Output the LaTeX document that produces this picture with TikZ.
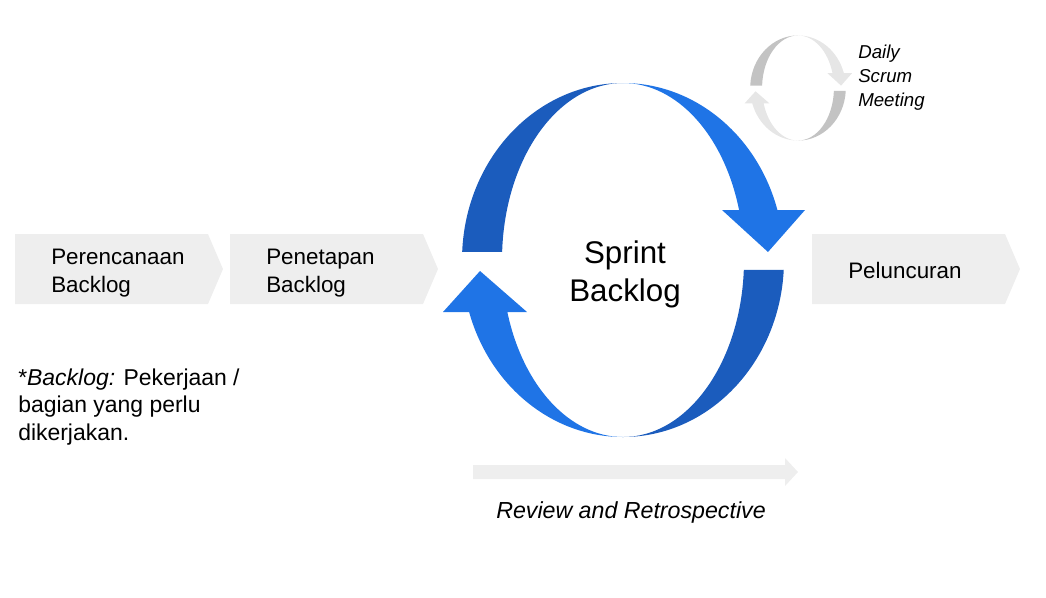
\documentclass[tikz,border=0pt]{standalone}
\usepackage{fontspec}
\setmainfont{Liberation Sans}
\usepackage{tikz}
\usetikzlibrary{positioning}
\definecolor{ringdark}{HTML}{1B5CBD}
\definecolor{ringlight}{HTML}{1F74E6}
\definecolor{minidark}{HTML}{C3C3C3}
\definecolor{minilight}{HTML}{E6E6E6}
\definecolor{paneel}{HTML}{EEEEEE}
\tikzset{
    chev/.style={fill=paneel},
    steplbl/.style={anchor=west, inner sep=0pt, align=left,
        font=\fontsize{16.8}{20.5}\selectfont},
    midlbl/.style={inner sep=0pt, align=center,
        font=\fontsize{23.5}{28.5}\selectfont},
    sidelbl/.style={anchor=west, inner sep=0pt, align=left,
        font=\fontsize{14}{18}\selectfont\itshape},
}
% twee gebogen pijlen rond (0,0), buiten rx 161, binnen rx 121, ry 177
\newcommand{\ringpair}[2]{%
    \fill[#1] (177.4:161 and 177)
        arc[start angle=177.4, end angle=90, x radius=161, y radius=177]
        arc[start angle=90, end angle=177.4, x radius=121, y radius=177] -- cycle;
    \fill[#2] (90:161 and 177)
        arc[start angle=90, end angle=16.4, x radius=161, y radius=177]
        -- (182,50) -- (145,8) -- (99,50) -- (16.4:121 and 177)
        arc[start angle=16.4, end angle=90, x radius=121, y radius=177] -- cycle;
    \fill[#1] (-3.2:161 and 177)
        arc[start angle=-3.2, end angle=-90, x radius=161, y radius=177]
        arc[start angle=-90, end angle=-3.2, x radius=121, y radius=177] -- cycle;
    \fill[#2] (270:161 and 177)
        arc[start angle=270, end angle=197.1, x radius=161, y radius=177]
        -- (-180,-52) -- (-143,-11) -- (-96,-52) -- (197.1:121 and 177)
        arc[start angle=197.1, end angle=270, x radius=121, y radius=177] -- cycle;
}
\begin{document}
\begin{tikzpicture}[x=0.75pt, y=0.75pt]
    \useasboundingbox (0,0) rectangle (1046,-597);

    % Tahapan
    \foreach \x in {15,230,812} {
        \fill[chev] (\x,-234) -- ++(193,0) -- ++(15,-35) -- ++(-15,-35) -- ++(-193,0) -- cycle;
    }
    \node[steplbl] (plan) at (51,-273) {Perencanaan\\Backlog};
    \node[steplbl] (tetap) at (266,-273) {Penetapan\\Backlog};
    \node[steplbl] (luncur) at (848,-270) {Peluncuran};

    % Siklus sprint
    \begin{scope}[shift={(623,-260)}]
        \ringpair{ringdark}{ringlight}
    \end{scope}
    \node[midlbl] (sprint) at (625,-274) {Sprint\\Backlog};

    % Daily scrum
    \begin{scope}[shift={(798,-88)}, scale=0.297]
        \ringpair{minidark}{minilight}
    \end{scope}
    \node[sidelbl] (daily) at (858,-78) {Daily\\Scrum\\Meeting};

    % Review
    \fill[paneel] (473,-465) -- (785,-465) -- (785,-458) -- (798,-472)
        -- (785,-486) -- (785,-479) -- (473,-479) -- cycle;
    \node[inner sep=0pt, font=\fontsize{17.4}{20.5}\selectfont\itshape] (review) at (631,-512)
        {Review and Retrospective};

    % Catatan
    \node[steplbl, font=\fontsize{17.2}{20.6}\selectfont] (catatan) at (18,-407)
        {*\textit{Backlog:} Pekerjaan /\\bagian yang perlu\\dikerjakan.};
\end{tikzpicture}
\end{document}
